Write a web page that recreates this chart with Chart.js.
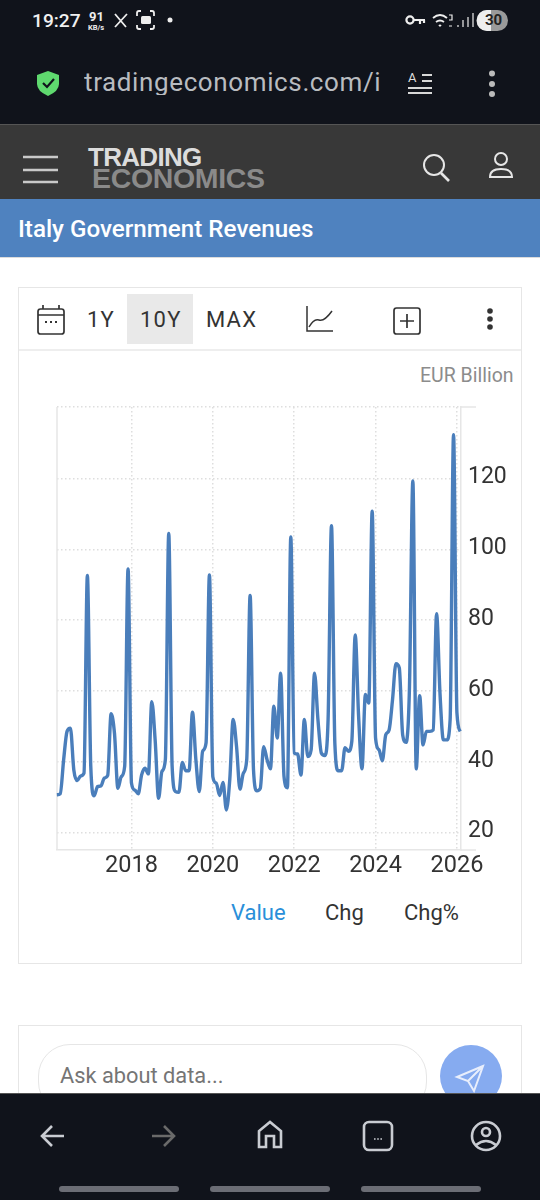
<!DOCTYPE html>
<html><head><meta charset="utf-8">
<script src="https://cdn.jsdelivr.net/npm/chart.js@4"></script>
<style>
html,body{margin:0;padding:0;background:#fff;width:540px;height:1200px;overflow:hidden;font-family:Roboto,sans-serif}
.a{position:absolute;white-space:nowrap;line-height:1}
svg{position:absolute;overflow:visible}
canvas{position:absolute;left:0;top:380px}
</style></head><body>
<div class="a" style="left:0;top:0;width:540px;height:124px;background:#10131b"></div>
<div class="a" style="left:32px;top:11px;font-size:19.2px;font-weight:500;color:#f0f0f0">19:27</div>
<div class="a" style="left:89px;top:10px;font-size:13px;font-weight:700;color:#eee">91</div>
<div class="a" style="left:88px;top:24px;font-size:7.5px;font-weight:700;color:#eee">KB/s</div>
<svg style="left:0;top:0" width="540" height="124" fill="none" stroke="#eee" stroke-width="2">
<path d="M115 14l11 13M127 14l-12 13" stroke-width="1.8"/>
<path d="M137 16v-3q0-2 2-2h2M150 11h2q2 0 2 2v3M154 25v2q0 2-2 2h-2M141 29h-2q-2 0-2-2v-2" stroke-width="1.8"/><rect x="141" y="16" width="10" height="8" rx="1.5" fill="#eee" stroke="none"/>
<circle cx="170" cy="20" r="2.5" fill="#eee" stroke="none"/>
<circle cx="410" cy="20" r="3.6" stroke-width="2.2"/><path d="M414 20h11M420 20v4M424 20v3" stroke-width="2.2"/>
<path d="M433 18q7-6 14 0M436 22q4-3 8 0M439 26q1-1 2 0" stroke-width="1.8"/><path d="M449 15h3v5h-3M449 26h3" stroke-width="1.2"/>
<path d="M458 27v-2M463 27v-7M468 27v-10M473 27V13" stroke-width="1.5" opacity=".8"/>
<rect x="477" y="10" width="31" height="21" rx="10.5" fill="#9a9a9a" stroke="none"/>
<path d="M487 10h4v21h-4a10.5 10.5 0 0 1 0-21z" fill="#eee" stroke="none"/>
<path d="M48 71l11 4v9q0 7-11 12q-11-5-11-12v-9z" fill="#5fd96f" stroke="none"/>
<path d="M43 83l4 4 7-8" stroke="#10131b" stroke-width="2.2"/>
<path d="M408 93h24M408 88h24M422 81h10M422 75h10" stroke="#d8d8d8" stroke-width="2.2"/>
<circle cx="492" cy="73.5" r="3" fill="#bbb" stroke="none"/><circle cx="492" cy="84" r="3" fill="#bbb" stroke="none"/><circle cx="492" cy="94" r="3" fill="#bbb" stroke="none"/>
</svg>
<div class="a" style="left:485px;top:13px;font-size:15px;font-weight:700;color:#222">30</div>
<div class="a" style="left:408px;top:71px;font-size:13px;color:#ddd">A</div>
<div class="a" style="left:84px;top:69px;width:298px;overflow:hidden;font-size:26px;letter-spacing:.62px;color:#b9bcc0;font-family:Roboto">tradingeconomics.com/i</div>

<div class="a" style="left:0;top:124px;width:540px;height:75px;background:#383838;border-top:1px solid #555;box-sizing:border-box"></div>
<svg style="left:0;top:124px" width="540" height="75" fill="none" stroke="#c9c9c9" stroke-width="2.6">
<path d="M23 33h35M23 46h35M23 58h35"/>
<circle cx="434" cy="41" r="10" stroke="#e6e6e6" stroke-width="2"/><path d="M441 49l8 8" stroke="#e6e6e6" stroke-width="2.6"/>
<circle cx="501" cy="35" r="6" stroke="#e6e6e6" stroke-width="2"/><path d="M490 53q0-8 11-8t11 8z" stroke="#e6e6e6" stroke-width="2"/>
</svg>
<div class="a" style="left:88px;top:144px;font-size:26px;font-weight:700;color:#dcdcdc;font-family:'Liberation Sans';letter-spacing:-.7px">TRADING</div>
<div class="a" style="left:92px;top:164px;font-size:28.5px;font-weight:700;color:#8a8a8a;font-family:'Liberation Sans';letter-spacing:-.35px">ECONOMICS</div>

<div class="a" style="left:0;top:199px;width:540px;height:59px;background:#4f82bf;border-bottom:1px solid #dcdcdc;box-sizing:border-box"></div>
<div class="a" style="left:18px;top:217px;font-size:24.2px;font-weight:500;color:#fff">Italy Government Revenues</div>

<div class="a" style="left:18px;top:287px;width:504px;height:677px;border:1px solid #e6e6e6;box-sizing:border-box"></div>
<div class="a" style="left:19px;top:349px;width:502px;height:2px;background:#eeeeee"></div>
<div class="a" style="left:127px;top:294px;width:66px;height:50px;background:#e9e9e9"></div>
<svg style="left:0;top:280px" width="540" height="80" fill="none" stroke="#333" stroke-width="1.7">
<rect x="38" y="29" width="26" height="25" rx="2.5"/><path d="M38 35h26M43 25v4M59 25v4"/>
<path d="M45 42h2M50 42h2M55 42h2" stroke-width="2"/>
<path d="M307 26v25h26M309 47q5-9 10-7t13-9" stroke-width="1.5"/>
<rect x="394" y="28" width="26" height="26" rx="2.5"/><path d="M407 34v14M400 41h14"/>
<circle cx="490" cy="31" r="2.8" fill="#333" stroke="none"/><circle cx="490" cy="39" r="2.8" fill="#333" stroke="none"/><circle cx="490" cy="47" r="2.8" fill="#333" stroke="none"/>
</svg>
<div class="a" style="left:87px;top:309px;font-size:22px;letter-spacing:1.2px;color:#333">1Y</div>
<div class="a" style="left:140px;top:309px;font-size:22px;letter-spacing:1.2px;color:#333">10Y</div>
<div class="a" style="left:206px;top:309px;font-size:22px;letter-spacing:1.2px;color:#333">MAX</div>
<div class="a" style="left:420px;top:366px;font-size:19.5px;color:#8c8c8c">EUR Billion</div>

<canvas id="c" width="540" height="510" style="width:540px;height:510px"></canvas>

<div class="a" style="left:231px;top:902px;font-size:22px;color:#2a8fd9">Value</div>
<div class="a" style="left:325px;top:902px;font-size:22px;color:#333">Chg</div>
<div class="a" style="left:404px;top:902px;font-size:22px;color:#333">Chg%</div>

<div class="a" style="left:18px;top:1025px;width:504px;height:90px;border:1px solid #e6e6e6;box-sizing:border-box"></div>
<div class="a" style="left:38px;top:1044px;width:389px;height:70px;border:1.5px solid #e6e6e6;border-radius:32px;box-sizing:border-box"></div>
<div class="a" style="left:60px;top:1065px;font-size:21.8px;color:#757575">Ask about data...</div>
<div class="a" style="left:440px;top:1045px;width:62px;height:62px;border-radius:50%;background:#86abf0"></div>
<svg style="left:0;top:1040px" width="540" height="60" fill="none" stroke="#e8eefc" stroke-width="2"><path d="M483 26l-26 11 11 4 6 10z M483 26l-15 15"/></svg>

<div class="a" style="left:0;top:1093px;width:540px;height:107px;background:#10131b;border-top:1px solid #555;box-sizing:border-box"></div>
<svg style="left:0;top:1093px" width="540" height="107" fill="none" stroke="#c9ccd2" stroke-width="2.6">
<path d="M64 43H43M52 33l-10 10 10 10"/>
<path d="M152 43h21M164 33l10 10-10 10" stroke="#6a6a6a"/>
<path d="M259 54V38l11-9 11 9v16h-7v-11h-8v11z"/>
<rect x="364" y="29" width="28" height="28" rx="5"/><path d="M374 46h8" stroke-width="1.6" stroke-dasharray="1.6 1.6"/>
<circle cx="486" cy="43" r="14"/><circle cx="486" cy="39" r="4"/><path d="M476 52q10-8 20 0"/>
</svg>
<div class="a" style="left:59px;top:1186px;width:120px;height:6px;border-radius:3px;background:#6b6d75"></div>
<div class="a" style="left:210px;top:1186px;width:120px;height:6px;border-radius:3px;background:#6b6d75"></div>
<div class="a" style="left:361px;top:1186px;width:120px;height:6px;border-radius:3px;background:#6b6d75"></div>

<script>
const startYear = 2016;
const startMonth = 3;
const revenues = [
 30.7,31,40.6,48.6,49.5,37.7,34.7,36,36.8,92.6,38.7,30.4,
 33,33.2,35.4,36.2,53.6,48,32.5,35.8,38.7,94.5,34,32,
 31,36.3,38.2,36.6,57,46,29.7,37.3,40.6,104.5,38.7,31.6,
 31.4,39.8,37.5,37.5,54,40.6,31.6,43,45.3,92.8,35.8,34,
 30.5,34.2,26.4,35,52,44.3,32.3,36.8,40.6,87,37.7,31.8,
 32.5,44.3,40.6,38,55.7,46.7,65,35.8,32.7,103.5,42.5,42.2,
 36.3,52,41.5,43.4,65,52,42.5,41.8,52,106.7,45,37.5,
 37.5,44,43,45.8,75.8,52.8,38,59,56.6,110.8,46.7,43.4,
 40.3,47.6,49,57.5,67.7,66.5,47.6,45.5,61,119.3,38,58.7,
 44.8,48.6,48.6,49,81.8,59.4,46.2,46.2,52,132.4,53.8,48.6
];
const xTickYears = [2018,2020,2022,2024,2026];
const yTickValues = [20,40,60,80,100,120];
const axisRange = {xMin:2016.17,xMax:2026.1,yMin:15.1,yMax:140.2};

const points = revenues.map((v,i)=>({x:startYear+(startMonth-1+i)/12,y:v}));
const edge = {id:'edge',beforeDatasetsDraw(ch){
  const {ctx,chartArea:a}=ch;ctx.save();ctx.strokeStyle='#e6e6e6';ctx.lineWidth=1.5;
  ctx.beginPath();ctx.moveTo(a.left,a.top);ctx.lineTo(a.left,a.bottom);
  ctx.moveTo(a.right,a.top);ctx.lineTo(a.right+15,a.top);
  ctx.moveTo(a.right,a.bottom);ctx.lineTo(a.right+15,a.bottom);ctx.stroke();ctx.restore();}};
new Chart(document.getElementById('c'),{
 type:'line',
 data:{datasets:[{data:points,borderColor:'#4a7ebb',borderWidth:3.4,pointRadius:0,cubicInterpolationMode:'monotone',fill:false,clip:false}]},
 plugins:[edge],
 options:{responsive:false,animation:false,devicePixelRatio:1,
  layout:{padding:{left:57,top:27,right:0,bottom:0}},
  plugins:{legend:{display:false},tooltip:{enabled:false}},
  scales:{
   x:{type:'linear',min:axisRange.xMin,max:axisRange.xMax,
      afterBuildTicks(s){s.ticks=xTickYears.map(value=>({value}));},
      afterFit(s){s.height=40;},
      grid:{color:'#dedede',lineWidth:1.5,drawTicks:false},
      border:{color:'#e6e6e6',width:1.5,dash:[1.5,2.5]},
      ticks:{autoSkip:false,maxRotation:0,padding:2,color:'#333',font:{family:'Roboto',size:23.5},callback:v=>String(v)}},
   y:{position:'right',min:axisRange.yMin,max:axisRange.yMax,
      afterBuildTicks(s){s.ticks=yTickValues.concat([axisRange.yMax]).map(value=>({value}));},
      afterFit(s){s.width=79;},
      grid:{color:'#dedede',lineWidth:1.5,drawTicks:false},
      border:{color:'#e6e6e6',width:1.5,dash:[1.5,2.5]},
      ticks:{autoSkip:false,padding:7,labelOffset:-1,color:'#333',font:{family:'Roboto',size:23},callback:v=>yTickValues.includes(v)?String(v):''}}
  }}
});
</script>
</body></html>
